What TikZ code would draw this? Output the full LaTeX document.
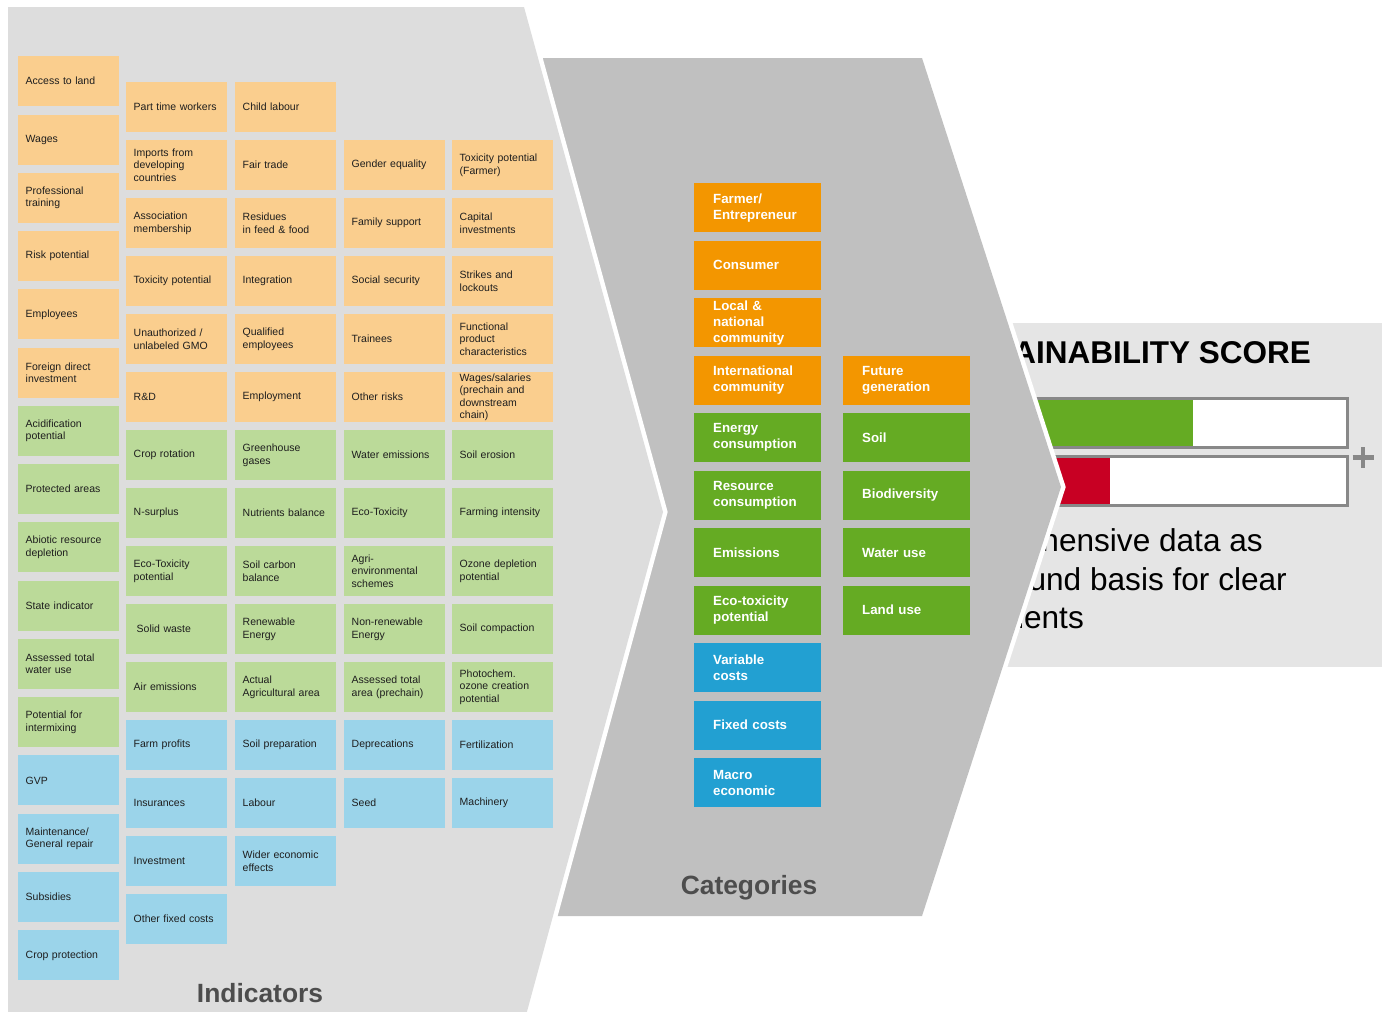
\documentclass[tikz,border=0pt]{standalone}
\usepackage{fontspec}
\setmainfont{Liberation Sans}

\definecolor{indorange}{RGB}{250,206,142}
\definecolor{indgreen}{RGB}{187,218,153}
\definecolor{indblue}{RGB}{155,212,234}
\definecolor{catorange}{RGB}{243,150,0}
\definecolor{catgreen}{RGB}{101,171,35}
\definecolor{catblue}{RGB}{34,160,210}
\definecolor{panelA}{RGB}{221,221,221}
\definecolor{panelB}{RGB}{192,192,192}
\definecolor{panelC}{RGB}{229,229,229}
\definecolor{barred}{RGB}{200,0,35}
\definecolor{bargray}{RGB}{136,136,136}
\definecolor{titlegray}{RGB}{77,77,77}
\definecolor{indtext}{RGB}{30,30,30}

% indicator box: name, colour, x, y (north west corner), text
\newcommand\indnode[5]{\node[indbox,fill=#2] (#1) at (#3,#4) {#5};}
% category box: name, colour, x, y (north west corner), text
\newcommand\catnode[5]{\node[catbox,fill=#2] (#1) at (#3,#4) {#5};}

\begin{document}
\begin{tikzpicture}[x=1pt,y=-1pt,
  indbox/.style={rectangle, anchor=north west, minimum width=101pt, minimum height=50pt,
    text width=86pt, inner xsep=7.5pt, inner ysep=0pt, align=left, text=indtext,
    font=\fontsize{10.5}{12.6}\selectfont},
  catbox/.style={rectangle, anchor=north west, minimum width=127pt, minimum height=49pt,
    text width=89pt, inner xsep=19pt, inner ysep=0pt, align=left, text=white,
    font=\fontsize{13.3}{16}\selectfont\bfseries},
  paneltitle/.style={inner sep=0pt, text=titlegray, font=\fontsize{26.4}{30}\selectfont\bfseries},
  scoretext/.style={inner sep=0pt, anchor=base east, text=black, font=\fontsize{31.6}{38}\selectfont},
  gap/.style={preaction={draw=white, line width=9pt}}]

\clip (0,0) rectangle (1382,1012);
\fill[white] (0,0) rectangle (1382,1012);

% ---------- score panel ----------
\fill[panelC] (1000,323) rectangle (1382,667);
\node[scoretext, font=\fontsize{31.5}{38}\selectfont\bfseries] (scoretitle) at (1311,363) {AINABILITY SCORE};
\fill[white] (1020,397) rectangle (1349,449);
\fill[catgreen] (1020,397) rectangle (1193,449);
\draw[bargray, line width=2.7pt] (1020,398.35) rectangle (1347.65,447.65);
\fill[white] (1020,455) rectangle (1349,507);
\fill[barred] (1020,455) rectangle (1110,507);
\draw[bargray, line width=2.7pt] (1020,456.35) rectangle (1347.65,505.65);
\draw[bargray, line width=4.5pt] (1352.5,457.5) -- (1373.5,457.5) (1363,447) -- (1363,468);
\node[scoretext] (line1) at (1263,551.7) {hensive data as};
\node[scoretext] (line2) at (1287,590) {und basis for clear};
\node[scoretext] (line3) at (1084,628.3) {ments};

% ---------- categories panel ----------
\fill[panelB, gap]
  (515,58) -- (922,58) -- (1061,487) -- (922,916) -- (515,916) -- cycle;

\catnode{farmer}{catorange}{694}{183}{Farmer/\\Entrepreneur}
\catnode{consumer}{catorange}{694}{240.5}{Consumer}
\catnode{local}{catorange}{694}{298}{Local \&\\national\\community}
\catnode{intl}{catorange}{694}{355.5}{International\\community}
\catnode{energy}{catgreen}{694}{413}{Energy\\consumption}
\catnode{resource}{catgreen}{694}{470.5}{Resource\\consumption}
\catnode{emissions}{catgreen}{694}{528}{Emissions}
\catnode{ecotox}{catgreen}{694}{585.5}{Eco-toxicity\\potential}
\catnode{varcost}{catblue}{694}{643}{Variable\\costs}
\catnode{fixcost}{catblue}{694}{700.5}{Fixed costs}
\catnode{macro}{catblue}{694}{758}{Macro\\economic}

\catnode{future}{catorange}{843}{355.5}{Future\\generation}
\catnode{soil}{catgreen}{843}{413}{Soil}
\catnode{biodiv}{catgreen}{843}{470.5}{Biodiversity}
\catnode{water}{catgreen}{843}{528}{Water use}
\catnode{land}{catgreen}{843}{585.5}{Land use}

\node[paneltitle] (cattitle) at (749,888) {Categories};

% ---------- indicators panel ----------
\fill[panelA, gap]
  (8,7) -- (524,7) -- (663,512) -- (525.5,1017) -- (8,1017) -- cycle;

% column 1
\indnode{a1}{indorange}{18}{56}{Access to land}
\indnode{a2}{indorange}{18}{114.3}{Wages}
\indnode{a3}{indorange}{18}{172.5}{Professional\\training}
\indnode{a4}{indorange}{18}{230.8}{Risk potential}
\indnode{a5}{indorange}{18}{289.1}{Employees}
\indnode{a6}{indorange}{18}{347.4}{Foreign direct\\investment}
\indnode{a7}{indgreen}{18}{405.6}{Acidification\\potential}
\indnode{a8}{indgreen}{18}{463.9}{Protected areas}
\indnode{a9}{indgreen}{18}{522.2}{Abiotic resource\\depletion}
\indnode{a10}{indgreen}{18}{580.4}{State indicator}
\indnode{a11}{indgreen}{18}{638.7}{Assessed total\\water use}
\indnode{a12}{indgreen}{18}{697}{Potential for\\intermixing}
\indnode{a13}{indblue}{18}{755.2}{GVP}
\indnode{a14}{indblue}{18}{813.5}{Maintenance/\\General repair}
\indnode{a15}{indblue}{18}{871.8}{Subsidies}
\indnode{a16}{indblue}{18}{930.1}{Crop protection}

% column 2
\indnode{b1}{indorange}{126}{82}{Part time workers}
\indnode{b2}{indorange}{126}{140}{Imports from\\developing\\countries}
\indnode{b3}{indorange}{126}{198}{Association\\membership}
\indnode{b4}{indorange}{126}{256}{Toxicity potential}
\indnode{b5}{indorange}{126}{314}{Unauthorized /\\unlabeled GMO}
\indnode{b6}{indorange}{126}{372}{R\&D}
\indnode{b7}{indgreen}{126}{430}{Crop rotation}
\indnode{b8}{indgreen}{126}{488}{N-surplus}
\indnode{b9}{indgreen}{126}{546}{Eco-Toxicity\\potential}
\indnode{b10}{indgreen}{126}{604}{\hspace*{3pt}Solid waste}
\indnode{b11}{indgreen}{126}{662}{Air emissions}
\indnode{b12}{indblue}{126}{720}{Farm profits}
\indnode{b13}{indblue}{126}{778}{Insurances}
\indnode{b14}{indblue}{126}{836}{Investment}
\indnode{b15}{indblue}{126}{894}{Other fixed costs}

% column 3
\indnode{c1}{indorange}{235}{82}{Child labour}
\indnode{c2}{indorange}{235}{140}{Fair trade}
\indnode{c3}{indorange}{235}{198}{Residues\\in feed \& food}
\indnode{c4}{indorange}{235}{256}{Integration}
\indnode{c5}{indorange}{235}{314}{Qualified\\employees}
\indnode{c6}{indorange}{235}{372}{Employment}
\indnode{c7}{indgreen}{235}{430}{Greenhouse\\gases}
\indnode{c8}{indgreen}{235}{488}{Nutrients balance}
\indnode{c9}{indgreen}{235}{546}{Soil carbon\\balance}
\indnode{c10}{indgreen}{235}{604}{Renewable\\Energy}
\indnode{c11}{indgreen}{235}{662}{Actual\\Agricultural area}
\indnode{c12}{indblue}{235}{720}{Soil preparation}
\indnode{c13}{indblue}{235}{778}{Labour}
\indnode{c14}{indblue}{235}{836}{Wider economic\\effects}

% column 4
\indnode{d1}{indorange}{344}{140}{Gender equality}
\indnode{d2}{indorange}{344}{198}{Family support}
\indnode{d3}{indorange}{344}{256}{Social security}
\indnode{d4}{indorange}{344}{314}{Trainees}
\indnode{d5}{indorange}{344}{372}{Other risks}
\indnode{d6}{indgreen}{344}{430}{Water emissions}
\indnode{d7}{indgreen}{344}{488}{Eco-Toxicity}
\indnode{d8}{indgreen}{344}{546}{Agri-\\environmental\\schemes}
\indnode{d9}{indgreen}{344}{604}{Non-renewable\\Energy}
\indnode{d10}{indgreen}{344}{662}{Assessed total\\area (prechain)}
\indnode{d11}{indblue}{344}{720}{Deprecations}
\indnode{d12}{indblue}{344}{778}{Seed}

% column 5
\indnode{e1}{indorange}{452}{140}{Toxicity potential\\(Farmer)}
\indnode{e2}{indorange}{452}{198}{Capital\\investments}
\indnode{e3}{indorange}{452}{256}{Strikes and\\lockouts}
\indnode{e4}{indorange}{452}{314}{Functional\\product\\characteristics}
\indnode{e5}{indorange}{452}{372}{Wages/salaries\\(prechain and\\downstream\\chain)}
\indnode{e6}{indgreen}{452}{430}{Soil erosion}
\indnode{e7}{indgreen}{452}{488}{Farming intensity}
\indnode{e8}{indgreen}{452}{546}{Ozone depletion\\potential}
\indnode{e9}{indgreen}{452}{604}{Soil compaction}
\indnode{e10}{indgreen}{452}{662}{Photochem.\\ozone creation\\potential}
\indnode{e11}{indblue}{452}{720}{Fertilization}
\indnode{e12}{indblue}{452}{778}{Machinery}

\node[paneltitle] (indtitle) at (260,993) {Indicators};

\end{tikzpicture}
\end{document}
